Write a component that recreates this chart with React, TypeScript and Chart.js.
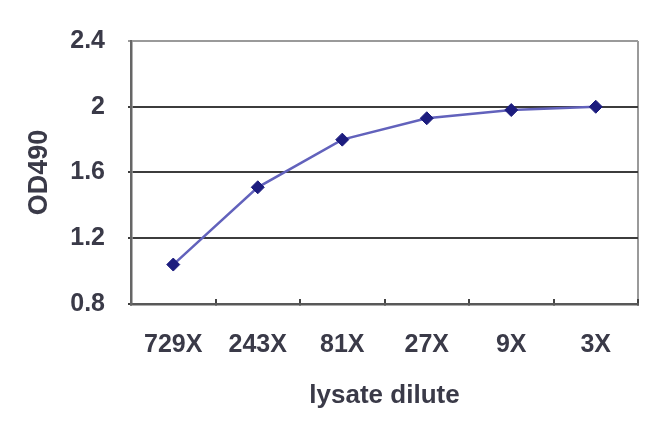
import React, { useEffect, useRef } from "react";
import { Chart, registerables } from "chart.js";

Chart.register(...registerables);

const categories = ["729X", "243X", "81X", "27X", "9X", "3X"];
const odValues = [1.04, 1.51, 1.8, 1.93, 1.98, 2.0];
const yMin = 0.8;
const yMax = 2.4;
const yStep = 0.4;
const xTitle = "lysate dilute";
const yTitle = "OD490";

const FONT = "'Liberation Sans', Arial, sans-serif";
const TEXT = "#3a3a48";

export default function App() {
  const ref = useRef<HTMLCanvasElement | null>(null);

  useEffect(() => {
    if (!ref.current) return;
    const chart = new Chart(ref.current, {
      type: "line",
      data: {
        labels: categories,
        datasets: [
          {
            data: odValues,
            borderColor: "#6262bc",
            borderWidth: 2.5,
            pointStyle: "rectRot",
            pointRadius: 6.5,
            pointBackgroundColor: "#1c1c7e",
            pointBorderColor: "#1c1c7e",
            pointBorderWidth: 1,
            tension: 0,
            fill: false,
          },
        ],
      },
      options: {
        responsive: false,
        animation: false,
        devicePixelRatio: 1,
        layout: { padding: { top: 41, right: 12, left: 0, bottom: 0 } },
        plugins: {
          legend: { display: false },
          tooltip: { enabled: false },
        },
        scales: {
          x: {
            type: "category",
            offset: true,
            grid: {
              offset: true,
              drawOnChartArea: true,
              drawTicks: true,
              tickLength: -5,
              lineWidth: 2,
              color: (ctx: any) =>
                ctx.index === undefined ? "#9a9a9a" : "rgba(0,0,0,0)",
              tickColor: "#444444",
            },
            border: { display: true, color: "#585858", width: 2.5 },
            ticks: {
              color: TEXT,
              font: { family: FONT, size: 25, weight: "bold" },
              padding: 31,
              maxRotation: 0,
              autoSkip: false,
            },
            title: {
              display: true,
              text: xTitle,
              color: TEXT,
              font: { family: FONT, size: 26, weight: "bold" },
              padding: { top: 0, bottom: 22 },
            },
            afterFit: (scale: any) => {
              scale.height = 129;
            },
          },
          y: {
            min: yMin,
            max: yMax,
            grid: {
              drawTicks: true,
              tickLength: 3,
              lineWidth: 2,
              color: (ctx: any) =>
                ctx.tick && Math.abs(ctx.tick.value - yMax) < 1e-6
                  ? "#9a9a9a"
                  : "#3c3c3c",
            },
            border: { display: true, color: "#666666", width: 2.5 },
            ticks: {
              stepSize: yStep,
              color: TEXT,
              font: { family: FONT, size: 25, weight: "bold" },
              padding: 23,
              callback: (v: any) => Number(Number(v).toFixed(1)).toString(),
            },
            title: {
              display: true,
              text: yTitle,
              color: TEXT,
              font: { family: FONT, size: 27, weight: "bold" },
              padding: { top: 23, bottom: 0 },
            },
            afterFit: (scale: any) => {
              scale.width = 131;
            },
          },
        },
      },
    });
    return () => chart.destroy();
  }, []);

  return (
    <div style={{ position: "fixed", left: 0, top: 0, width: 650, height: 433, background: "#ffffff" }}>
      <canvas ref={ref} width={650} height={433} />
    </div>
  );
}
